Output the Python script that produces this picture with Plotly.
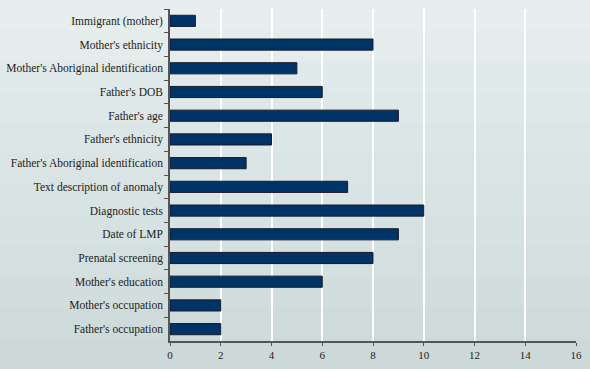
import plotly.graph_objects as go

categories = [
    "Immigrant (mother)", "Mother's ethnicity", "Mother's Aboriginal identification",
    "Father's DOB", "Father's age", "Father's ethnicity",
    "Father's Aboriginal identification", "Text description of anomaly",
    "Diagnostic tests", "Date of LMP", "Prenatal screening",
    "Mother's education", "Mother's occupation", "Father's occupation",
]
values = [1, 8, 5, 6, 9, 4, 3, 7, 10, 9, 8, 6, 2, 2]
x_ticks = [0, 2, 4, 6, 8, 10, 12, 14, 16]

W, H = 590, 369
ml, mr, mt, mb = 170, 14, 9, 28
ph = H - mt - mb

fig = go.Figure(go.Bar(
    y=categories, x=values, orientation="h", width=0.47,
    marker=dict(color="#003366", line=dict(color="#1a1a2a", width=1)),
))

# background gradient bands (styling)
top = (0xe6, 0xee, 0xee)
bot = (0xcd, 0xd9, 0xd9)
n = 12
shapes = []
y0p = -mb / ph
y1p = 1 + mt / ph
for i in range(n):
    t = i / (n - 1)
    c = tuple(round(bot[k] + (top[k] - bot[k]) * t) for k in range(3))
    a = y0p + (y1p - y0p) * i / n
    b = y0p + (y1p - y0p) * (i + 1) / n
    shapes.append(dict(type="rect", xref="paper", yref="paper",
                       x0=-ml / (W - ml - mr) - 0.05, x1=1 + mr / (W - ml - mr) + 0.05,
                       y0=a, y1=b + 0.001, fillcolor="rgb(%d,%d,%d)" % c,
                       line=dict(width=0), layer="below"))

fig.update_layout(
    width=W, height=H,
    margin=dict(l=ml, r=mr, t=mt, b=mb, pad=0),
    paper_bgcolor="#d8e2e2", plot_bgcolor="rgba(0,0,0,0)",
    font=dict(family="Liberation Serif", size=11.5, color="#222222"),
    showlegend=False,
    shapes=shapes,
    xaxis=dict(range=[0, 16], tickvals=x_ticks, showgrid=True, gridcolor="#ffffff",
               gridwidth=1.5, zeroline=False, showline=True, linecolor="#555555",
               linewidth=1.5, ticks="outside", ticklen=3, tickcolor="#555555",
               tickfont=dict(size=11)),
    yaxis=dict(autorange="reversed", categoryorder="array", categoryarray=categories,
               showline=True, linecolor="#555555", linewidth=1.5, ticks="outside",
               tickson="boundaries", ticklen=4, tickcolor="#555555", showgrid=False,
               automargin=False, ticklabelstandoff=3),
)

fig.write_html("out.html", config={"displayModeBar": False},
               post_script="document.body.style.margin='0';document.body.style.overflow='hidden';")
